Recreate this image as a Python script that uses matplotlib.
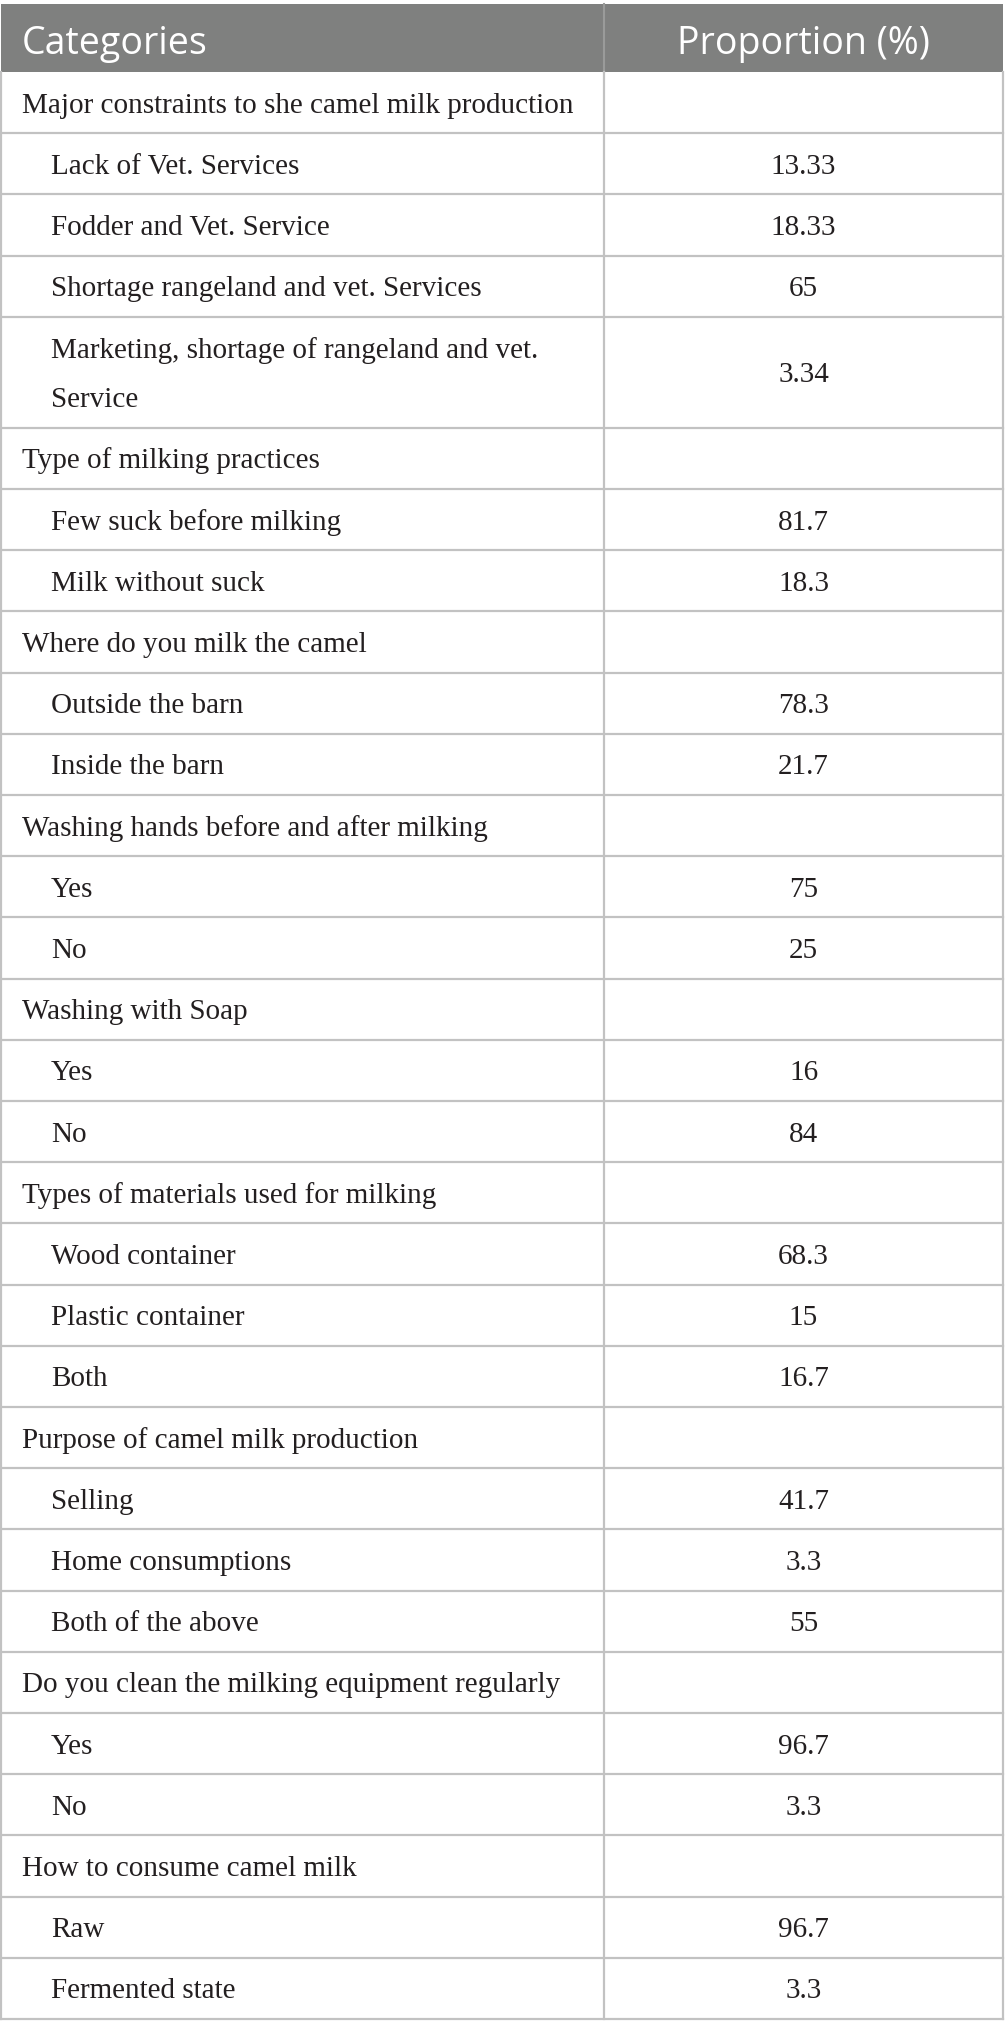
import matplotlib.pyplot as plt
from matplotlib.patches import Rectangle

# table content
header = ['Categories', 'Proportion (%)']

labels = [
    'Major constraints to she camel milk production',
    'Lack of Vet. Services',
    'Fodder and Vet. Service',
    'Shortage rangeland and vet. Services',
    'Marketing, shortage of rangeland and vet.\nService',
    'Type of milking practices',
    'Few suck before milking',
    'Milk without suck',
    'Where do you milk the camel',
    'Outside the barn',
    'Inside the barn',
    'Washing hands before and after milking',
    'Yes',
    'No',
    'Washing with Soap',
    'Yes',
    'No',
    'Types of materials used for milking',
    'Wood container',
    'Plastic container',
    'Both',
    'Purpose of camel milk production',
    'Selling',
    'Home consumptions',
    'Both of the above',
    'Do you clean the milking equipment regularly',
    'Yes',
    'No',
    'How to consume camel milk',
    'Raw',
    'Fermented state',
]

values = ['', '13.33', '18.33', '65', '3.34',
          '', '81.7', '18.3',
          '', '78.3', '21.7',
          '', '75', '25',
          '', '16', '84',
          '', '68.3', '15', '16.7',
          '', '41.7', '3.3', '55',
          '', '96.7', '3.3',
          '', '96.7', '3.3']

is_group = [v == '' for v in values]

W, H = 1005, 2044
fig = plt.figure(figsize=(W / 100, H / 100), dpi=100)
ax = fig.add_axes([0, 0, 1, 1])
ax.set_xlim(0, W)
ax.set_ylim(H, 0)
ax.axis('off')

head_col = '#7f807f'
line_col = '#c2c2c2'
txt_col = '#231f20'
x_left, x_mid, x_right = 1, 604, 1003
top = 4
head_h = 68
row_h = 61.2
line_gap = 49

serif = 'Liberation Serif'
sans = 'Open Sans'
fs_body = 21
fs_head = 27

# header
ax.add_patch(Rectangle((x_left, top), x_right - x_left, head_h, color=head_col, lw=0))
ax.plot([x_mid, x_mid], [top, top + head_h], color='#9a9b9a', lw=1.5)
ax.text(22, top + 50, header[0], color='white', fontsize=fs_head,
        family=sans, va='baseline', ha='left')
ax.text((x_mid + x_right) / 2, top + 50, header[1], color='white',
        fontsize=fs_head, family=sans, va='baseline', ha='center')

y = top + head_h
for lab, val, grp in zip(labels, values, is_group):
    lines = lab.split('\n')
    h = row_h if len(lines) == 1 else 111
    yc = y + h / 2
    x0 = 22 if grp else 51
    y0 = yc + 10 - (len(lines) - 1) * line_gap / 2
    for i, ln in enumerate(lines):
        ax.text(x0, y0 + i * line_gap, ln, color=txt_col, fontsize=fs_body,
                family=serif, va='baseline', ha='left')
    ax.text((x_mid + x_right) / 2, yc + 10, val, color=txt_col, fontsize=fs_body,
            family=serif, va='baseline', ha='center')
    y += h
    ax.plot([x_left, x_right], [y, y], color=line_col, lw=1.6)

bottom = y
for xv in (x_left, x_mid, x_right):
    ax.plot([xv, xv], [top + head_h, bottom], color=line_col, lw=1.6)

fig.savefig('out.png', dpi=100)
